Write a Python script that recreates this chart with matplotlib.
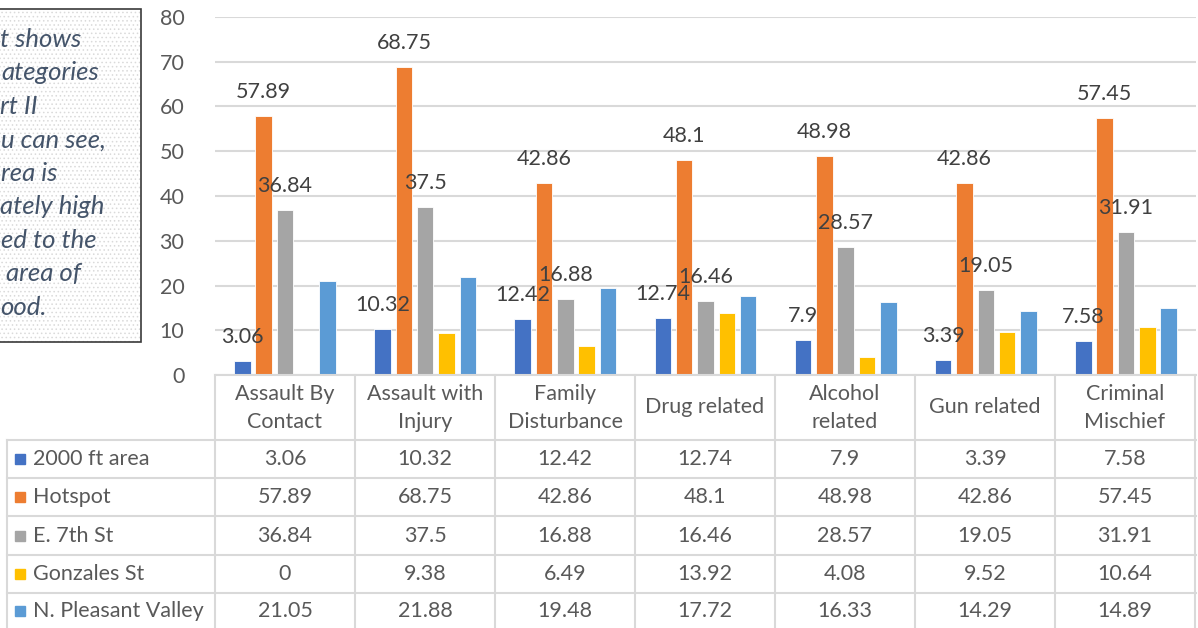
import matplotlib.pyplot as plt
import numpy as np
from matplotlib.lines import Line2D
from matplotlib.patches import Rectangle

categories = ['Assault By\nContact', 'Assault with\nInjury', 'Family\nDisturbance',
              'Drug related', 'Alcohol\nrelated', 'Gun related', 'Criminal\nMischief']
series_names = ['2000 ft area', 'Hotspot', 'E. 7th St', 'Gonzales St', 'N. Pleasant Valley']
area_2000ft = [3.06, 10.32, 12.42, 12.74, 7.9, 3.39, 7.58]
hotspot = [57.89, 68.75, 42.86, 48.1, 48.98, 42.86, 57.45]
e_7th_st = [36.84, 37.5, 16.88, 16.46, 28.57, 19.05, 31.91]
gonzales_st = [0, 9.38, 6.49, 13.92, 4.08, 9.52, 10.64]
n_pleasant_valley = [21.05, 21.88, 19.48, 17.72, 16.33, 14.29, 14.89]
value_text = [
    ['3.06', '10.32', '12.42', '12.74', '7.9', '3.39', '7.58'],
    ['57.89', '68.75', '42.86', '48.1', '48.98', '42.86', '57.45'],
    ['36.84', '37.5', '16.88', '16.46', '28.57', '19.05', '31.91'],
    ['0', '9.38', '6.49', '13.92', '4.08', '9.52', '10.64'],
    ['21.05', '21.88', '19.48', '17.72', '16.33', '14.29', '14.89'],
]
labelled = [True, True, True, False, False]  # only first three series have data labels
box_lines = ['t shows', 'ategories', 'rt II', 'u can see,', 'rea is',
             'ately high', 'ed to the', ' area of', 'ood.']

colors = ['#4472C4', '#ED7D31', '#A5A5A5', '#FFC000', '#5B9BD5']
grid_c = '#D9D9D9'
txt_c = '#595959'
FONT = 'Lato'
FS = 15.5

plt.rcParams['font.family'] = [FONT, 'DejaVu Sans']

W, H = 1198, 628
fig = plt.figure(figsize=(W / 100, H / 100), dpi=100)


def fx(px):
    return px / W


def fy(py):
    return 1 - py / H


# chart area
left, right, top, bottom = 215, 1196, 17, 375
ax = fig.add_axes([fx(left), fy(bottom), fx(right) - fx(left), (bottom - top) / H])
ax.set_xlim(-0.5, len(categories) - 0.5)
ax.set_ylim(0, 80)
ax.set_yticks(np.arange(0, 81, 10))
ax.set_xticks([])
ax.tick_params(axis='y', length=0, pad=22, labelsize=FS, labelcolor=txt_c)
ax.grid(axis='y', color=grid_c, lw=1.5)
ax.set_axisbelow(True)
for s in ax.spines.values():
    s.set_visible(False)

data = [area_2000ft, hotspot, e_7th_st, gonzales_st, n_pleasant_valley]
x = np.arange(len(categories))
step = 21.3 / 140
width = 16.5 / 140
for i, vals in enumerate(data):
    pos = x + (i - 2) * step
    ax.bar(pos, vals, width, color=colors[i], edgecolor='white', linewidth=0.6, zorder=2)
    if labelled[i]:
        for p, v, t in zip(pos, vals, value_text[i]):
            ax.annotate(t, (p, v), xytext=(0, 13), textcoords='offset points',
                        ha='center', va='baseline', fontsize=FS, color='#404040', zorder=3)

# data table under the chart
col_edges = [left + 140 * k for k in range(len(categories) + 1)]
row_edges = [440, 478, 516, 555, 593]


def hline(py, x0, x1):
    fig.add_artist(Line2D([fx(x0), fx(x1)], [fy(py), fy(py)], color=grid_c, lw=1.5))


def vline(px, y0, y1):
    fig.add_artist(Line2D([fx(px), fx(px)], [fy(y0), fy(y1)], color=grid_c, lw=1.5))


hline(bottom, left, right)
for r in row_edges:
    hline(r, 7, right)
vline(7, 440, H)
for c in col_edges:
    vline(c, bottom, H)

for k, cat in enumerate(categories):
    cx = (col_edges[k] + col_edges[k + 1]) / 2
    parts = cat.split('\n')
    if len(parts) == 1:
        fig.text(fx(cx), fy(407), parts[0], ha='center', va='center', fontsize=FS, color=txt_c)
    else:
        fig.text(fx(cx), fy(394), parts[0], ha='center', va='center', fontsize=FS, color=txt_c)
        fig.text(fx(cx), fy(422), parts[1], ha='center', va='center', fontsize=FS, color=txt_c)

row_centers = [459, 497, 536, 574, 611]
for i, name in enumerate(series_names):
    cy = row_centers[i]
    fig.add_artist(Rectangle((fx(15), fy(cy + 5)), 10 / W, 10 / H, color=colors[i]))
    fig.text(fx(33), fy(cy), name, ha='left', va='center', fontsize=FS, color=txt_c)
    for k in range(len(categories)):
        cx = (col_edges[k] + col_edges[k + 1]) / 2
        fig.text(fx(cx), fy(cy), value_text[i][k], ha='center', va='center',
                 fontsize=FS, color=txt_c)

# clipped text box on the left
plt.rcParams['hatch.linewidth'] = 0.6
fig.add_artist(Rectangle((fx(-2), fy(342)), 143 / W, 333 / H, facecolor='white',
                         edgecolor='#DADADA', hatch='....', lw=0))
fig.add_artist(Rectangle((fx(-2), fy(342)), 143 / W, 333 / H, facecolor='none',
                         edgecolor='#3A3A3A', lw=1.2))
xs = [0, 1, 0, 1, 1, 0, 1, 0, 0]
for j, line in enumerate(box_lines):
    fig.text(fx(xs[j]), fy(46.7 + 33.5 * j), line, ha='left', va='baseline',
             fontsize=18.5, style='italic', color='#44546A')

fig.savefig('out.png', dpi=100)
